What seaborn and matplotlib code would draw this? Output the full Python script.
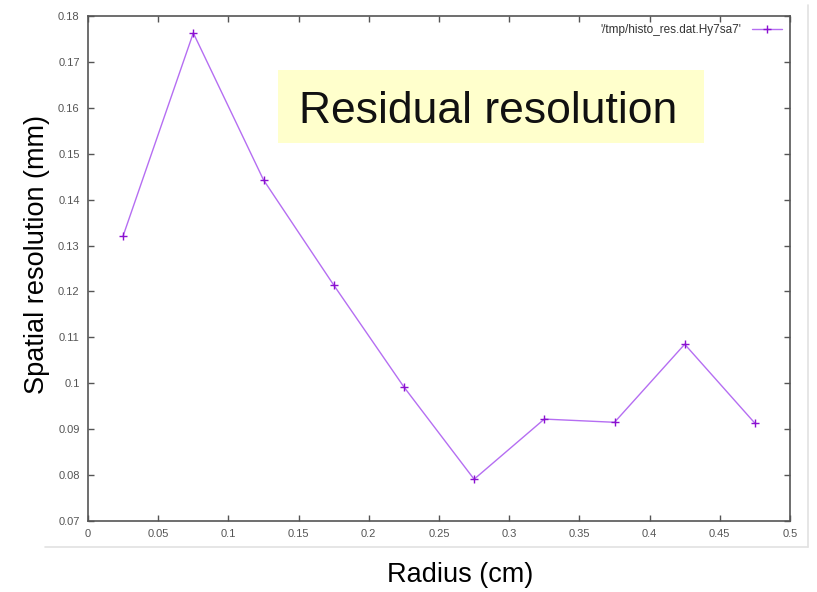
import matplotlib
matplotlib.use("Agg")
import matplotlib.pyplot as plt
import seaborn as sns
import pandas as pd
from matplotlib.lines import Line2D

radius = [0.025, 0.075, 0.125, 0.175, 0.225, 0.275, 0.325, 0.375, 0.425, 0.475]
resolution = [0.1321, 0.1763, 0.1443, 0.1214, 0.0992, 0.0791, 0.0922, 0.0915, 0.1085, 0.0913]
series_name = "'/tmp/histo_res.dat.Hy7sa7'"
x_ticks = [0, 0.05, 0.1, 0.15, 0.2, 0.25, 0.3, 0.35, 0.4, 0.45, 0.5]
y_ticks = [0.07, 0.08, 0.09, 0.1, 0.11, 0.12, 0.13, 0.14, 0.15, 0.16, 0.17, 0.18]

sns.set_theme(style="ticks")
plt.rcParams['font.family'] = ['Liberation Sans', 'DejaVu Sans']

df = pd.DataFrame({"Radius": radius, "Resolution": resolution, "series": series_name})

fig = plt.figure(figsize=(8.17, 5.92), dpi=100)
ax = fig.add_axes([88/817, 1-521/592, (790-88)/817, (521-16)/592])

line_color = "#b56ef2"
marker_color = "#8a10d0"
sns.lineplot(data=df, x="Radius", y="Resolution", ax=ax, color=line_color,
             linewidth=1.0, marker="+", markersize=6, markeredgewidth=1.0,
             markeredgecolor=marker_color, legend=False)

ax.set_xlim(0, 0.5)
ax.set_ylim(0.07, 0.18)
ax.set_xticks(x_ticks)
ax.set_xticklabels([f"{t:g}" for t in x_ticks])
ax.set_yticks(y_ticks)
ax.set_yticklabels([f"{t:g}" for t in y_ticks])
ax.tick_params(direction="in", length=4, width=1, top=True, right=True,
               labelsize=8, labelcolor="#555555", color="#555555", pad=6)
for s in ax.spines.values():
    s.set_color("#555555")
    s.set_linewidth(1.2)

ax.set_xlabel("")
ax.set_ylabel("")
fig.text(460/817, 1-575/592, "Radius (cm)", ha="center", va="center", fontsize=19.5, color="black")
fig.text(37/817, 1-255/592, "Spatial resolution (mm)", ha="center", va="center",
         rotation=90, fontsize=19.5, color="black")

# title box
fig.patches.append(plt.Rectangle((278/817, 1-143/592), (704-278)/817, (143-70)/592,
                                 transform=fig.transFigure, facecolor="#ffffcc",
                                 edgecolor="none", zorder=3))
fig.text(488/817, 1-123/592, "Residual resolution", ha="center", va="baseline",
         fontsize=32, color="#111111", zorder=4)

# legend
handle = Line2D([], [], color=line_color, marker="+", markersize=6,
                markeredgecolor=marker_color, linewidth=1.0)
leg = ax.legend([handle], [series_name], loc="upper right", frameon=False,
                fontsize=8.5, markerfirst=False, handlelength=2.5,
                handletextpad=0.9, borderaxespad=0.3, labelcolor="#333333")

# screenshot border lines
fig.add_artist(Line2D([45/817, 808/817], [1-547/592, 1-547/592], color="#e2e2e2",
                      linewidth=1.2, transform=fig.transFigure))
fig.add_artist(Line2D([808/817, 808/817], [1-5/592, 1-547/592], color="#e2e2e2",
                      linewidth=1.2, transform=fig.transFigure))

fig.savefig("out.png", dpi=100)
